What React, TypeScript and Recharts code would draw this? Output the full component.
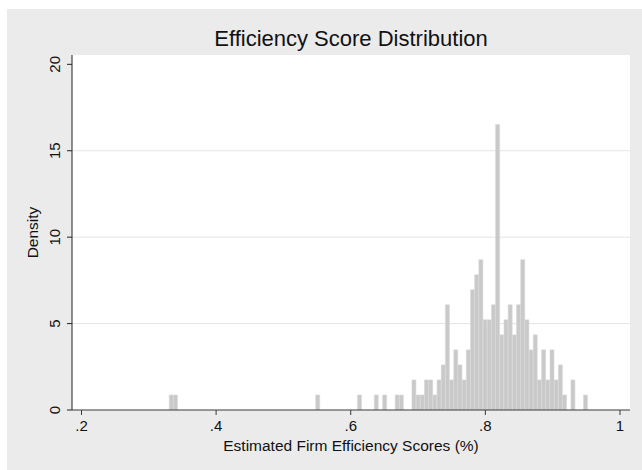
import React from "react";
import { Bar, BarChart, CartesianGrid, XAxis, YAxis } from "recharts";

// histogram: 100 equal-width bins starting at the smallest score
const binStart = 0.3304;
const binWidth = 0.006216;
const binCounts = [
  1, 1, 0, 0, 0, 0, 0, 0, 0, 0,
  0, 0, 0, 0, 0, 0, 0, 0, 0, 0,
  0, 0, 0, 0, 0, 0, 0, 0, 0, 0,
  0, 0, 0, 0, 0, 1, 0, 0, 0, 0,
  0, 0, 0, 0, 0, 1, 0, 0, 0, 1,
  0, 1, 0, 0, 1, 1, 0, 0, 2, 1,
  1, 2, 2, 1, 2, 3, 7, 2, 4, 3,
  2, 4, 8, 9, 10, 6, 6, 7, 19, 5,
  6, 7, 5, 7, 10, 6, 4, 5, 2, 4,
  2, 4, 2, 3, 1, 0, 2, 0, 0, 1,
];

const xTicks = [0.2, 0.4, 0.6, 0.8, 1];
const yTicks = [0, 5, 10, 15, 20];
const gridValues = [5, 10, 15];

const totalCount = binCounts.reduce((sum, c) => sum + c, 0);
const histogram = binCounts.map((count, i) => ({
  mid: binStart + (i + 0.5) * binWidth,
  density: count / (totalCount * binWidth),
}));

const font = '"Liberation Sans", Arial, Helvetica, sans-serif';
const ink = "#111111";

function formatX(v: number) {
  return v === 1 ? "1" : String(v).replace(/^0/, "");
}

function YTick(props: any) {
  const { y, payload } = props;
  const bx = 53;
  return (
    <text
      x={bx}
      y={y}
      transform={`rotate(-90, ${bx}, ${y})`}
      textAnchor="middle"
      fontSize={15}
      fontFamily={font}
      fill={ink}
    >
      {payload.value}
    </text>
  );
}

export default function App() {
  return (
    <div
      style={{
        position: "fixed",
        left: 0,
        top: 0,
        width: 642,
        height: 470,
        background: "#ffffff",
      }}
    >
      <div
        style={{
          position: "absolute",
          left: 7,
          top: 9,
          width: 635,
          height: 461,
          background: "#ebebeb",
          fontFamily: font,
        }}
      >
        <div
          style={{
            position: "absolute",
            left: 65,
            width: 558,
            top: 17,
            textAlign: "center",
            fontSize: 22,
            color: ink,
            lineHeight: "26px",
          }}
        >
          Efficiency Score Distribution
        </div>
        <BarChart
          width={635}
          height={461}
          data={histogram}
          margin={{ top: 46, right: 12, left: 0, bottom: 0 }}
          barCategoryGap={0}
          barGap={0}
        >
          <CartesianGrid
            vertical={false}
            horizontalValues={gridValues}
            stroke="#e4e4e4"
            fill="#ffffff"
          />
          <XAxis
            dataKey="mid"
            type="number"
            domain={[0.1859, 1.0149]}
            allowDataOverflow
            ticks={xTicks}
            tickFormatter={formatX}
            height={60}
            tickSize={5}
            tickMargin={5}
            stroke="#3a3a3a"
            tick={{ fill: ink, fontSize: 15, fontFamily: font }}
            label={{
              value: "Estimated Firm Efficiency Scores (%)",
              position: "insideBottom",
              offset: 19,
              fill: ink,
              fontSize: 15.5,
              fontFamily: font,
            }}
          />
          <YAxis
            type="number"
            domain={[0, 20.54]}
            allowDataOverflow
            ticks={yTicks}
            width={65}
            tickSize={5}
            stroke="#222222"
            tick={<YTick />}
            label={{
              value: "Density",
              angle: -90,
              position: "insideLeft",
              offset: 25,
              textAnchor: "middle",
              fill: ink,
              fontSize: 15.5,
              fontFamily: font,
            }}
          />
          <Bar
            dataKey="density"
            fill="#c9c9c9"
            stroke="#d9d9d9"
            strokeWidth={0.6}
            isAnimationActive={false}
          />
        </BarChart>
      </div>
    </div>
  );
}
